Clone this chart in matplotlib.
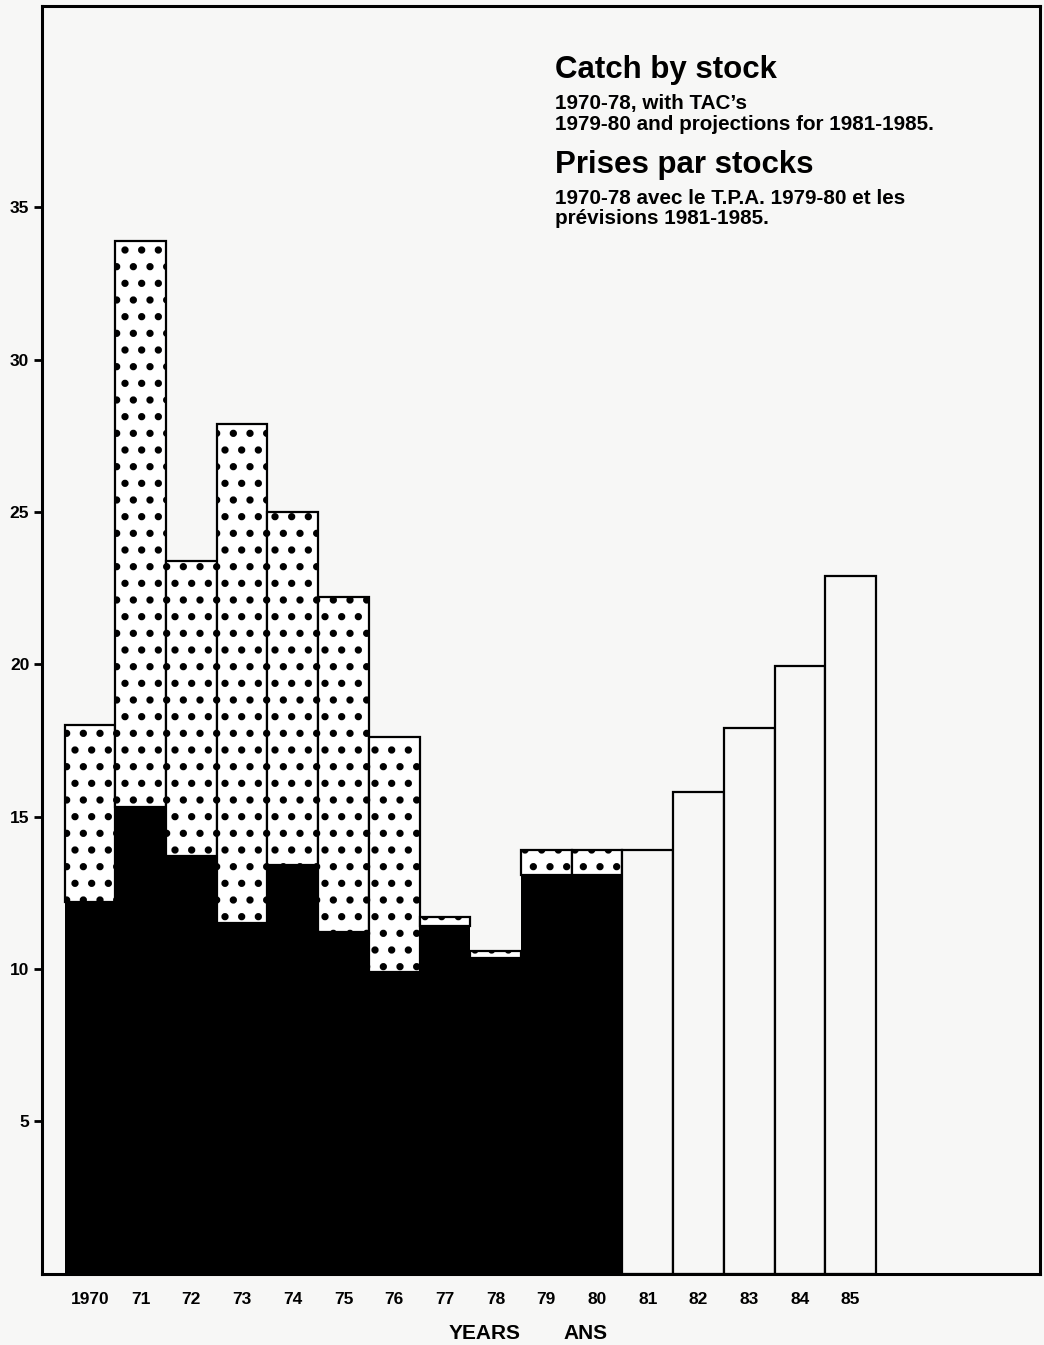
import numpy as np
import matplotlib
matplotlib.use("Agg")
import matplotlib.pyplot as plt

plt.rcParams['font.family'] = ['Liberation Sans', 'DejaVu Sans']
plt.rcParams['hatch.linewidth'] = 2.8

# data (thousand t)
years = ['1970', '71', '72', '73', '74', '75', '76', '77', '78', '79', '80',
         '81', '82', '83', '84', '85']
stock_a = [12.2, 15.3, 13.7, 11.5, 13.4, 11.2, 9.9, 11.4, 10.35, 13.1, 13.1]
total = [18.0, 33.9, 23.4, 27.9, 25.0, 22.2, 17.6, 11.7, 10.6, 13.9, 13.9]
proj = [13.9, 15.8, 17.9, 19.95, 22.9]
yticks = [5, 10, 15, 20, 25, 30, 35]

paper = '#f7f7f6'
fig = plt.figure(figsize=(10.44, 13.45), dpi=100, facecolor=paper)
ax = fig.add_axes([0.040, 0.053, 0.956, 0.9425])
ax.set_facecolor(paper)

x = np.arange(len(years))
xa = x[:len(stock_a)]
xp = x[len(stock_a):]
stock_b = np.array(total) - np.array(stock_a)

ax.bar(xa, stock_a, width=1.0, color='black', edgecolor='black', linewidth=0)
ax.bar(xa, stock_b, width=1.0, bottom=stock_a, color='white',
       edgecolor='black', linewidth=1.6, hatch='.')
ax.bar(xp, proj, width=1.0, color=paper, edgecolor='black', linewidth=1.6)

ax.set_xlim(-0.95, 18.73)
ax.set_ylim(0, 41.6)
ax.set_yticks(yticks)
ax.set_yticklabels([str(v) for v in yticks], fontweight='bold', fontsize=12.5)
ax.set_xticks(x)
ax.set_xticklabels(years, fontweight='bold', fontsize=12.5)
ax.tick_params(axis='y', length=6, width=2, pad=3)
ax.tick_params(axis='x', length=0, pad=13)
for s in ax.spines.values():
    s.set_linewidth(2.2)

fig.text(0.4646, 0.0089, 'YEARS', fontweight='bold', fontsize=15, ha='center', va='center')
fig.text(0.5613, 0.0089, 'ANS', fontweight='bold', fontsize=15, ha='center', va='center')

tx = 555 / 1044
fig.text(tx, 1 - 70 / 1345, 'Catch by stock', fontweight='bold', fontsize=22.5, va='center')
fig.text(tx, 1 - 103 / 1345, '1970-78, with TAC\u2019s', fontweight='bold', fontsize=14.9, va='center')
fig.text(tx, 1 - 124 / 1345, '1979-80 and projections for 1981-1985.', fontweight='bold',
         fontsize=14.9, va='center')
fig.text(tx, 1 - 165 / 1345, 'Prises par stocks', fontweight='bold', fontsize=22.5, va='center')
fig.text(tx, 1 - 198 / 1345, '1970-78 avec le T.P.A. 1979-80 et les', fontweight='bold',
         fontsize=14.9, va='center')
fig.text(tx, 1 - 219 / 1345, 'pr\u00e9visions 1981-1985.', fontweight='bold',
         fontsize=14.9, va='center')

fig.savefig('out.png', dpi=100, facecolor=paper)
